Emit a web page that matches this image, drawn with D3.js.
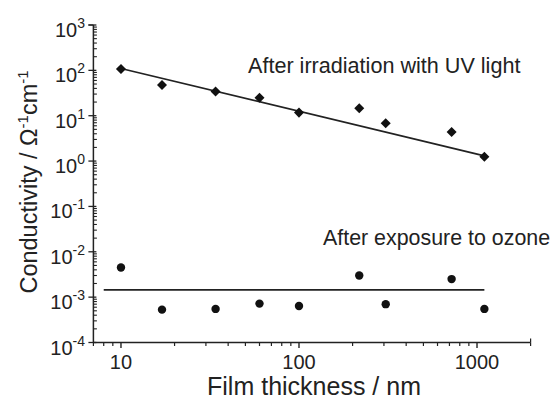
<!DOCTYPE html>
<html>
<head>
<meta charset="utf-8">
<script src="https://cdn.jsdelivr.net/npm/d3@7"></script>
<style>
  html, body { margin: 0; padding: 0; background: #fff; }
  svg { display: block; font-family: "Liberation Sans", Arial, sans-serif; }
</style>
</head>
<body>
<div id="chart"></div>
<script>
// film thickness (nm)
const thickness = [10, 17, 34, 60, 100, 218, 307, 720, 1100];
// conductivity after UV irradiation (ohm^-1 cm^-1)
const uvValues = [107, 47.5, 34, 25, 11.7, 14.6, 6.8, 4.4, 1.25];
// conductivity after ozone exposure
const ozoneValues = [0.0045, 0.00053, 0.00055, 0.00072, 0.00064, 0.0030, 0.0007, 0.0025, 0.00055];
// fitted lines, given by their end points
const uvFit = [[10, 110], [1100, 1.3]];
const ozoneFit = [[8, 0.00144], [1100, 0.00144]];

const xTicks = [10, 100, 1000];
const yExponents = [3, 2, 1, 0, -1, -2, -3, -4];

let width = 555, height = 401;
let ink = "#222";

let svg = d3.select("#chart").append("svg")
  .attr("width", width)
  .attr("height", height);

svg.append("rect").attr("width", width).attr("height", height).attr("fill", "#fff");

let x = d3.scaleLog().domain([7, 2000]).range([93.4, 530.6]);
let y = d3.scaleLog().domain([1e-4, 1e3]).range([342.5, 25]);

/* axes lines */
svg.append("line")
  .attr("x1", x.range()[0]).attr("x2", x.range()[0])
  .attr("y1", y.range()[1]).attr("y2", y.range()[0])
  .attr("stroke", ink).attr("stroke-width", 1.5);
svg.append("line")
  .attr("x1", x.range()[0]).attr("x2", x.range()[1])
  .attr("y1", y.range()[0]).attr("y2", y.range()[0])
  .attr("stroke", ink).attr("stroke-width", 1.5);

// end caps like the original plot
svg.append("line")
  .attr("x1", x.range()[0] - 5).attr("x2", x.range()[0])
  .attr("y1", y.range()[1]).attr("y2", y.range()[1])
  .attr("stroke", ink).attr("stroke-width", 1.2);
svg.append("line")
  .attr("x1", x.range()[1]).attr("x2", x.range()[1])
  .attr("y1", y.range()[0]).attr("y2", y.range()[0] - 4)
  .attr("stroke", ink).attr("stroke-width", 1.2);

/* x ticks */
let xMinor = [];
[1, 10, 100, 1000].forEach(base => {
  for (let k = 1; k <= 9; k++) {
    let v = base * k;
    if (v >= 7 && v <= 2000 && xTicks.indexOf(v) < 0) xMinor.push(v);
  }
});

svg.append("g").selectAll("line")
  .data(xMinor).enter().append("line")
  .attr("x1", d => x(d)).attr("x2", d => x(d))
  .attr("y1", y.range()[0]).attr("y2", y.range()[0] + 3.5)
  .attr("stroke", ink).attr("stroke-width", 1.2);

svg.append("g").selectAll("line")
  .data(xTicks).enter().append("line")
  .attr("x1", d => x(d)).attr("x2", d => x(d))
  .attr("y1", y.range()[0]).attr("y2", y.range()[0] + 5.5)
  .attr("stroke", ink).attr("stroke-width", 1.4);

svg.append("g").selectAll("text")
  .data(xTicks).enter().append("text")
  .attr("x", d => x(d))
  .attr("y", 369)
  .attr("text-anchor", "middle")
  .attr("font-size", 20)
  .attr("fill", ink)
  .text(d => d);

/* y ticks */
let yMinor = [];
yExponents.forEach(e => {
  for (let k = 2; k <= 9; k++) {
    let v = k * Math.pow(10, e);
    if (v <= 1e3) yMinor.push(v);
  }
});

svg.append("g").selectAll("line")
  .data(yMinor).enter().append("line")
  .attr("x1", x.range()[0]).attr("x2", x.range()[0] + 3.5)
  .attr("y1", d => y(d)).attr("y2", d => y(d))
  .attr("stroke", ink).attr("stroke-width", 1.1);

svg.append("g").selectAll("line")
  .data(yExponents).enter().append("line")
  .attr("x1", x.range()[0] - 5).attr("x2", x.range()[0] + 3)
  .attr("y1", d => y(Math.pow(10, d))).attr("y2", d => y(Math.pow(10, d)))
  .attr("stroke", ink).attr("stroke-width", 1.3);

let yLabels = svg.append("g").selectAll("text")
  .data(yExponents).enter().append("text")
  .attr("x", 85)
  .attr("y", d => y(Math.pow(10, d)) + 12)
  .attr("text-anchor", "end")
  .attr("font-size", 20)
  .attr("fill", ink);
yLabels.append("tspan").text("10");
yLabels.append("tspan")
  .attr("font-size", 14)
  .attr("dy", -9)
  .text(d => d < 0 ? "-" + Math.abs(d) : d);

/* axis titles */
svg.append("text")
  .attr("x", 314)
  .attr("y", 395)
  .attr("text-anchor", "middle")
  .attr("font-size", 25)
  .attr("fill", ink)
  .text("Film thickness / nm");

let yTitle = svg.append("text")
  .attr("transform", "translate(37,182) rotate(-90)")
  .attr("text-anchor", "middle")
  .attr("font-size", 23.5)
  .attr("fill", ink);
yTitle.append("tspan").text("Conductivity / Ω");
yTitle.append("tspan").attr("font-size", 15).attr("dy", -9).text("-1");
yTitle.append("tspan").attr("dy", 9).text("cm");
yTitle.append("tspan").attr("font-size", 15).attr("dy", -9).text("-1");

/* fit lines */
let line = d3.line().x(d => x(d[0])).y(d => y(d[1]));

svg.append("path")
  .attr("d", line(uvFit))
  .attr("fill", "none").attr("stroke", ink).attr("stroke-width", 1.7);
svg.append("path")
  .attr("d", line(ozoneFit))
  .attr("fill", "none").attr("stroke", ink).attr("stroke-width", 1.7);

/* markers */
let diamond = d3.symbol().type(d3.symbolDiamond2).size(64);

svg.append("g").selectAll("path")
  .data(thickness).enter().append("path")
  .attr("d", diamond)
  .attr("transform", (d, i) => `translate(${x(d)},${y(uvValues[i])})`)
  .attr("fill", "#111");

svg.append("g").selectAll("circle")
  .data(thickness).enter().append("circle")
  .attr("cx", d => x(d))
  .attr("cy", (d, i) => y(ozoneValues[i]))
  .attr("r", 4.2)
  .attr("fill", "#111");

/* annotations */
svg.append("text")
  .attr("x", 248).attr("y", 73)
  .attr("font-size", 21.6)
  .attr("fill", ink)
  .text("After irradiation with UV light");

svg.append("text")
  .attr("x", 323).attr("y", 245)
  .attr("font-size", 21.4)
  .attr("fill", ink)
  .text("After exposure to ozone");
</script>
</body>
</html>
